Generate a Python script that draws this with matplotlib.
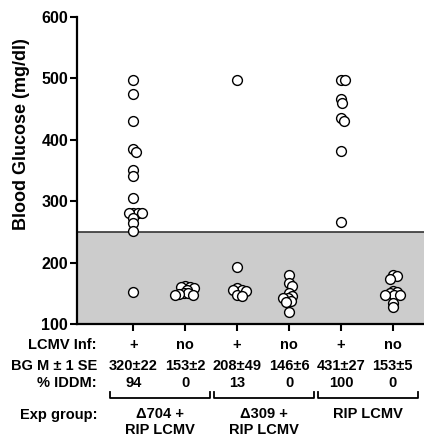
import numpy as np
import matplotlib.pyplot as plt
from matplotlib.transforms import blended_transform_factory

plt.rcParams['font.family'] = ['Liberation Sans', 'DejaVu Sans']
plt.rcParams['font.weight'] = 'bold'

# blood glucose values per column (mg/dl)
g1 = [498, 475, 431, 385, 380, 351, 341, 305, 280, 280, 280, 280, 272, 265, 251, 152]
g2 = [162, 161, 160, 158, 156, 151, 150, 149, 148, 147]
g3 = [498, 193, 158, 156, 155, 153, 148, 146]
g4 = [180, 167, 162, 150, 145, 143, 142, 138, 136, 120]
g5 = [498, 498, 466, 460, 435, 430, 381, 266]
g6 = [179, 178, 174, 154, 152, 150, 148, 148, 147, 135, 128]
columns = [g1, g2, g3, g4, g5, g6]

lcmv = ['+', 'no', '+', 'no', '+', 'no']
bg_mean = ['320±22', '153±2', '208±49', '146±6', '431±27', '153±5']
iddm = ['94', '0', '13', '0', '100', '0']
groups = ['Δ704 +\nRIP LCMV', 'Δ309 +\nRIP LCMV', 'RIP LCMV']
threshold = 250

fig = plt.figure(figsize=(4.24, 4.37), dpi=100)
ax = fig.add_axes([0.182, 0.2586, 0.818, 0.7025])
ax.set_xlim(-1.08, 5.6)
ax.set_ylim(100, 600)

ax.axhspan(100, threshold, facecolor='#cccccc', edgecolor='none', zorder=0)
ax.axhline(threshold, color='#333333', lw=1.2, zorder=1)


def swarm(vals, diam_px=9.0, px_x=52.0, px_y=0.614):
    # simple beeswarm: each point goes to the smallest offset that does not collide
    placed = []
    offs = []
    for v in vals:
        y = v * px_y
        cands = [0.0]
        for k in range(1, 40):
            cands += [k * 1.5, -k * 1.5]
        for c in cands:
            if all((c - px) ** 2 + (y - py) ** 2 >= (diam_px * 0.42) ** 2 for px, py in placed):
                placed.append((c, y))
                offs.append(c / px_x)
                break
    return np.array(offs)


for i, vals in enumerate(columns):
    off = swarm(vals)
    ax.scatter(i + off, vals, s=50, facecolor='white', edgecolor='black',
               linewidth=1.0, zorder=3, clip_on=False)

ax.set_yticks([100, 200, 300, 400, 500, 600])
ax.set_xticks(range(6))
ax.set_xticklabels([])
ax.tick_params(axis='y', labelsize=11.5, width=1.5, length=5, pad=1.5)
ax.tick_params(axis='x', width=1.5, length=5)
for lab in ax.get_yticklabels():
    lab.set_fontweight('bold')
for s in ['top', 'right']:
    ax.spines[s].set_visible(False)
ax.spines['left'].set_linewidth(1.6)
ax.spines['bottom'].set_linewidth(1.6)
fig.text(22 / 424, 1 - 134 / 437, 'Blood Glucose (mg/dl)', rotation=90, ha='center',
         va='center', fontsize=13, fontweight='bold')

# table below the axis
tr = blended_transform_factory(ax.transData, fig.transFigure)
fs = 10.5
rows_y = [1 - 345 / 437, 1 - 366 / 437, 1 - 383 / 437]
row_labels = ['LCMV Inf:', 'BG M ± 1 SE', '% IDDM:']
for lab, y in zip(row_labels, rows_y):
    fig.text(97 / 424, y, lab, ha='right', va='center', fontsize=fs, fontweight='bold')
for row, y in zip([lcmv, bg_mean, iddm], rows_y):
    for i, t in enumerate(row):
        ax.text(i, y, t, transform=tr, ha='center', va='center', fontsize=fs,
                fontweight='bold', clip_on=False)

yb = 1 - 398 / 437
ytop = 1 - 392 / 437
for j, g in enumerate(groups):
    x0, x1 = 2 * j - 0.44, 2 * j + 1.48
    ax.plot([x0, x0, x1, x1], [ytop, yb, yb, ytop], transform=tr, color='black',
            lw=1.3, clip_on=False)
    ax.text(2 * j + 0.52, 1 - 407 / 437, g, transform=tr, ha='center', va='top',
            fontsize=fs, fontweight='bold', linespacing=1.2, clip_on=False)
fig.text(97 / 424, 1 - 415 / 437, 'Exp group:', ha='right', va='center', fontsize=fs,
         fontweight='bold')

fig.savefig('out.png', dpi=100)
